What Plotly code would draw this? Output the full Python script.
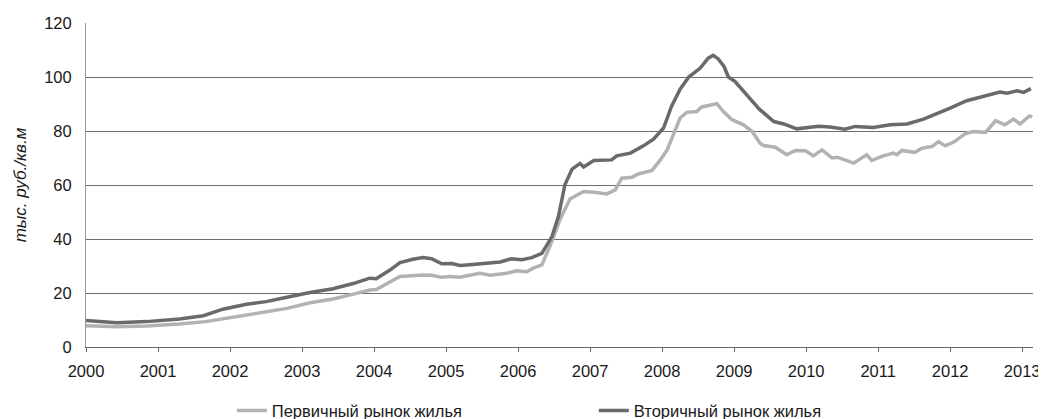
import plotly.graph_objects as go

# decimal-year positions and values (тыс. руб./кв.м)
primary_x = [2000.0, 2000.43, 2000.84, 2001.3, 2001.66, 2001.94, 2002.23, 2002.5, 2002.79, 2003.11,
             2003.3, 2003.43, 2003.67, 2003.94, 2004.03, 2004.22, 2004.36, 2004.68, 2004.8, 2004.94,
             2005.06, 2005.19, 2005.33, 2005.47, 2005.61, 2005.84, 2005.98, 2006.12, 2006.21, 2006.33,
             2006.44, 2006.58, 2006.72, 2006.91, 2007.09, 2007.23, 2007.35, 2007.44, 2007.58, 2007.67,
             2007.86, 2007.97, 2008.07, 2008.16, 2008.25, 2008.34, 2008.48, 2008.55, 2008.67, 2008.76,
             2008.85, 2008.97, 2009.13, 2009.25, 2009.36, 2009.41, 2009.57, 2009.73, 2009.85, 2009.99,
             2010.1, 2010.22, 2010.36, 2010.43, 2010.66, 2010.84, 2010.91, 2011.07, 2011.21, 2011.26,
             2011.33, 2011.51, 2011.61, 2011.75, 2011.84, 2011.93, 2012.05, 2012.21, 2012.32, 2012.49,
             2012.63, 2012.76, 2012.88, 2012.97, 2013.1, 2013.14]
primary_y = [7.9, 7.5, 7.8, 8.5, 9.4, 10.6, 12.1, 13.0, 14.3, 16.4,
             17.2, 17.8, 19.3, 21.1, 21.3, 24.2, 26.1, 26.7, 26.6, 25.8,
             26.1, 25.8, 26.4, 27.3, 26.6, 27.3, 28.2, 27.9, 29.2, 30.4,
             37.2, 47.1, 54.8, 57.6, 57.2, 56.7, 58.2, 62.5, 62.9, 64.1,
             65.4, 69.1, 73.0, 79.2, 84.8, 86.9, 87.2, 88.9, 89.7, 90.1,
             87.2, 84.2, 82.3, 79.8, 75.5, 74.6, 74.0, 71.2, 72.8, 72.7,
             70.8, 73.0, 70.0, 70.3, 68.1, 71.2, 69.1, 70.8, 71.8, 71.2,
             72.8, 72.1, 73.6, 74.3, 76.1, 74.5, 75.9, 79.0, 79.8, 79.5,
             83.8, 82.3, 84.4, 82.6, 85.6, 85.2]

secondary_x = [2000.0, 2000.43, 2000.84, 2001.3, 2001.63, 2001.9, 2002.23, 2002.5, 2002.79, 2003.11,
               2003.43, 2003.71, 2003.94, 2004.03, 2004.22, 2004.36, 2004.54, 2004.68, 2004.8, 2004.94,
               2005.08, 2005.19, 2005.33, 2005.52, 2005.75, 2005.91, 2006.05, 2006.19, 2006.33, 2006.47,
               2006.56, 2006.65, 2006.75, 2006.86, 2006.91, 2007.05, 2007.3, 2007.37, 2007.56, 2007.74,
               2007.88, 2008.02, 2008.13, 2008.25, 2008.37, 2008.53, 2008.64, 2008.71, 2008.78, 2008.86,
               2008.92, 2009.01, 2009.18, 2009.35, 2009.55, 2009.69, 2009.87, 2010.17, 2010.33, 2010.54,
               2010.68, 2010.93, 2011.17, 2011.4, 2011.63, 2011.84, 2012.0, 2012.23, 2012.42, 2012.56,
               2012.69, 2012.79, 2012.93, 2013.02, 2013.12]
secondary_y = [9.8, 9.0, 9.4, 10.4, 11.6, 14.0, 15.8, 16.8, 18.4, 20.2,
               21.6, 23.5, 25.5, 25.3, 28.5, 31.3, 32.5, 33.1, 32.7, 30.8,
               30.9, 30.2, 30.5, 31.0, 31.5, 32.7, 32.3, 33.1, 34.7, 40.9,
               48.3, 60.1, 65.9, 68.0, 66.7, 69.1, 69.3, 70.8, 71.8, 74.5,
               77.0, 81.1, 89.1, 95.5, 100.0, 103.3, 107.0, 108.0, 106.7, 103.9,
               100.0, 98.4, 93.4, 88.1, 83.5, 82.6, 80.8, 81.8, 81.5, 80.7,
               81.7, 81.3, 82.3, 82.6, 84.4, 86.6, 88.5, 91.2, 92.6, 93.7,
               94.4, 94.0, 94.9, 94.3, 95.7]

year_ticks = list(range(2000, 2014))
y_ticks = [0, 20, 40, 60, 80, 100, 120]

names = ["Первичный рынок жилья", "Вторичный рынок жилья"]
colors = ["#b2b2b2", "#6a6a6a"]

fig = go.Figure()
fig.add_trace(go.Scatter(x=primary_x, y=primary_y, mode="lines", name=names[0],
                         line=dict(color=colors[0], width=3.5)))
fig.add_trace(go.Scatter(x=secondary_x, y=secondary_y, mode="lines", name=names[1],
                         line=dict(color=colors[1], width=3.5)))

font_family = "Liberation Sans, Arial, sans-serif"
# the page body adds an 8px offset, so the figure is 8px smaller than the window
fig.update_layout(
    width=1038, height=411,
    margin=dict(l=78, r=13, t=15, b=72),
    paper_bgcolor="white", plot_bgcolor="white",
    font=dict(family=font_family, size=16, color="#1a1a1a"),
    showlegend=True,
    legend=dict(orientation="h", x=0.154, xanchor="left",
                yref="container", y=0.02, yanchor="middle",
                font=dict(size=16.5, color="#1a1a1a"),
                entrywidth=317, entrywidthmode="pixels",
                bgcolor="rgba(0,0,0,0)"),
    xaxis=dict(range=[2000, 2013.15], tickmode="array", tickvals=year_ticks,
               ticktext=[str(y) for y in year_ticks],
               showgrid=False, zeroline=False, automargin=False,
               showline=True, linecolor="#666666", linewidth=1,
               ticks="outside", ticklen=4, tickcolor="#666666",
               ticklabelstandoff=5,
               tickfont=dict(size=16.5, color="#1a1a1a")),
    yaxis=dict(range=[0, 120], tickmode="array", tickvals=y_ticks,
               showgrid=True, gridcolor="#6e6e6e", gridwidth=1,
               zeroline=False, showline=True, linecolor="#9a9a9a", linewidth=1,
               automargin=False,
               ticks="", ticklabelstandoff=10,
               tickfont=dict(size=16.5, color="#1a1a1a"),
               title=dict(text="<i>тыс. руб./кв.м</i>", font=dict(size=17, color="#1a1a1a"),
                          standoff=13)),
)

fig.write_html("out.html")
